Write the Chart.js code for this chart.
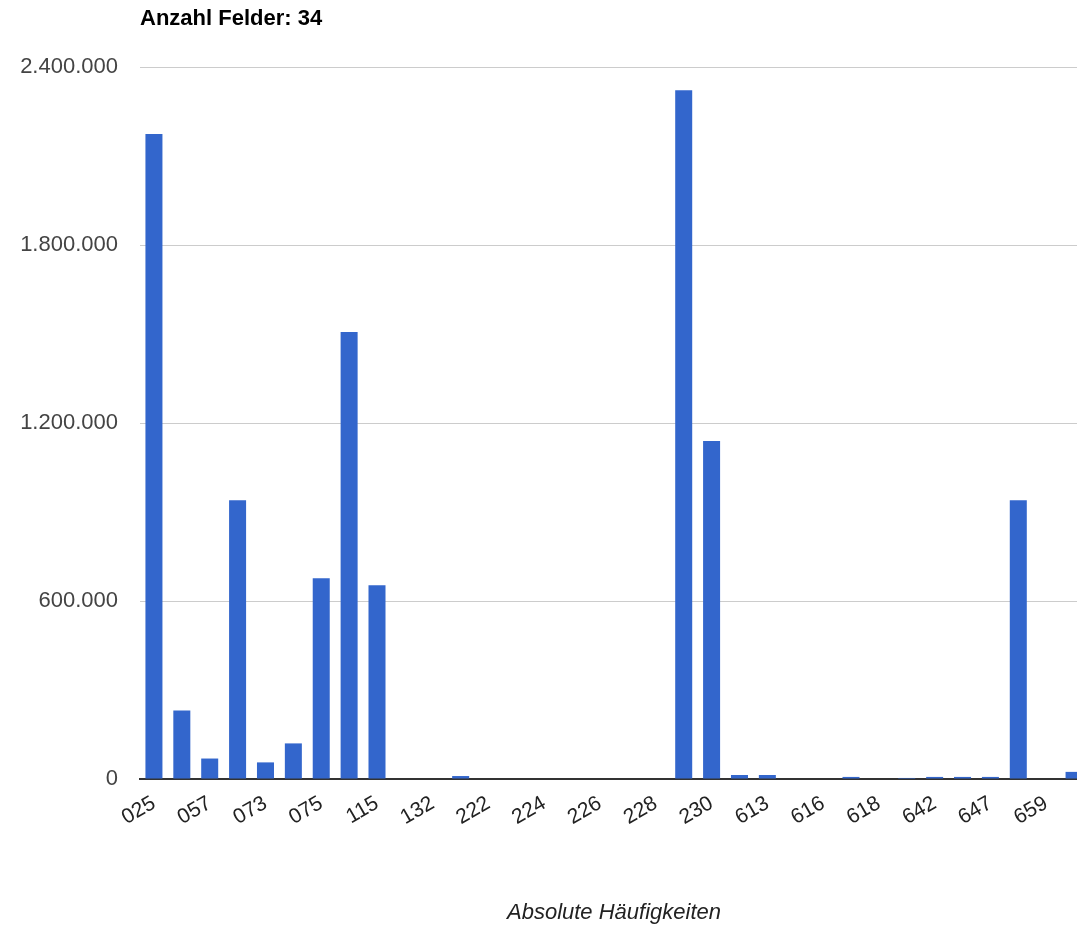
<!DOCTYPE html>
<html>
<head>
<meta charset="utf-8">
<title>Anzahl Felder: 34</title>
<script src="https://cdn.jsdelivr.net/npm/chart.js@4.4.0/dist/chart.umd.min.js"></script>
<style>
    html, body { margin: 0; padding: 0; background: #fff; overflow: hidden; }
    #wrap { width: 1088px; height: 929px; }
</style>
</head>
<body>
<div id="wrap"><canvas id="fieldChart" width="1088" height="929"></canvas></div>
<script>
// Field codes (only every second one is labelled in the original)
const fields = ['025', '051', '057', '071', '073', '074', '075', '111', '115', '131',
    '132', '221', '222', '223', '224', '225', '226', '227', '228', '229',
    '230', '612', '613', '614', '616', '617', '618', '641', '642', '646',
    '647', '658', '659', '660'];

// Absolute frequencies
const counts = [2174000, 231000, 69000, 940000, 56000, 120000, 677000, 1507000, 653000, 0,
    0, 10000, 0, 0, 0, 0, 0, 0, 0, 2322000,
    1139000, 13500, 13500, 0, 0, 7000, 0, 3500, 7000, 7000,
    7000, 940000, 0, 24000];

const yTicks = [0, 600000, 1200000, 1800000, 2400000];

const chartTitle = 'Anzahl Felder: 34';
const axisTitle = 'Absolute Häufigkeiten';

const fontFamily = "Arial, 'Liberation Sans', sans-serif";

// German thousands separator
function formatNumber(v) {
    return String(Math.round(v)).replace(/\B(?=(\d{3})+(?!\d))/g, '.');
}

// Title drawn at the left edge of the plot area
const leftTitle = {
    id: 'leftTitle',
    afterDraw(chart) {
        const c = chart.ctx;
        c.save();
        c.font = 'bold 22px ' + fontFamily;
        c.fillStyle = '#000';
        c.textBaseline = 'middle';
        c.textAlign = 'left';
        c.fillText(chartTitle, chart.chartArea.left, 19);
        c.restore();
    }
};

const ctx = document.getElementById('fieldChart').getContext('2d');
const fieldChart = new Chart(ctx, {
    type: 'bar',
    data: {
        labels: fields,
        datasets: [{
            label: axisTitle,
            data: counts,
            backgroundColor: '#3366cc',
            borderWidth: 0,
            barPercentage: 0.61,
            categoryPercentage: 1
        }]
    },
    options: {
        responsive: false,
        animation: false,
        devicePixelRatio: 1,
        layout: { padding: { top: 67, left: 0, right: 0, bottom: 0 } },
        plugins: {
            legend: { display: false },
            tooltip: { enabled: false }
        },
        scales: {
            x: {
                grid: { display: false, drawTicks: false },
                border: { display: true, color: '#333', width: 2 },
                ticks: {
                    autoSkip: false,
                    minRotation: 30,
                    maxRotation: 30,
                    padding: 12,
                    color: '#222',
                    font: { family: fontFamily, size: 21 },
                    callback: (v, i) => (i % 2 === 0 ? fields[i] : '')
                },
                title: {
                    display: true,
                    text: axisTitle,
                    color: '#222',
                    font: { family: fontFamily, size: 22, style: 'italic' },
                    padding: { top: 0, bottom: 3 }
                },
                afterFit(scale) {
                    scale.height = 150;
                    scale.paddingLeft = 0;
                    scale.paddingRight = 0;
                }
            },
            y: {
                min: 0,
                max: yTicks[yTicks.length - 1],
                afterBuildTicks(scale) {
                    scale.ticks = yTicks.map(v => ({ value: v }));
                },
                grid: { color: '#cccccc', lineWidth: 1, drawTicks: false },
                border: { display: false },
                ticks: {
                    padding: 22,
                    color: '#444',
                    font: { family: fontFamily, size: 22 },
                    callback: v => formatNumber(v)
                },
                afterFit(scale) { scale.width = 140; }
            }
        }
    },
    plugins: [leftTitle]
});
</script>
</body>
</html>
